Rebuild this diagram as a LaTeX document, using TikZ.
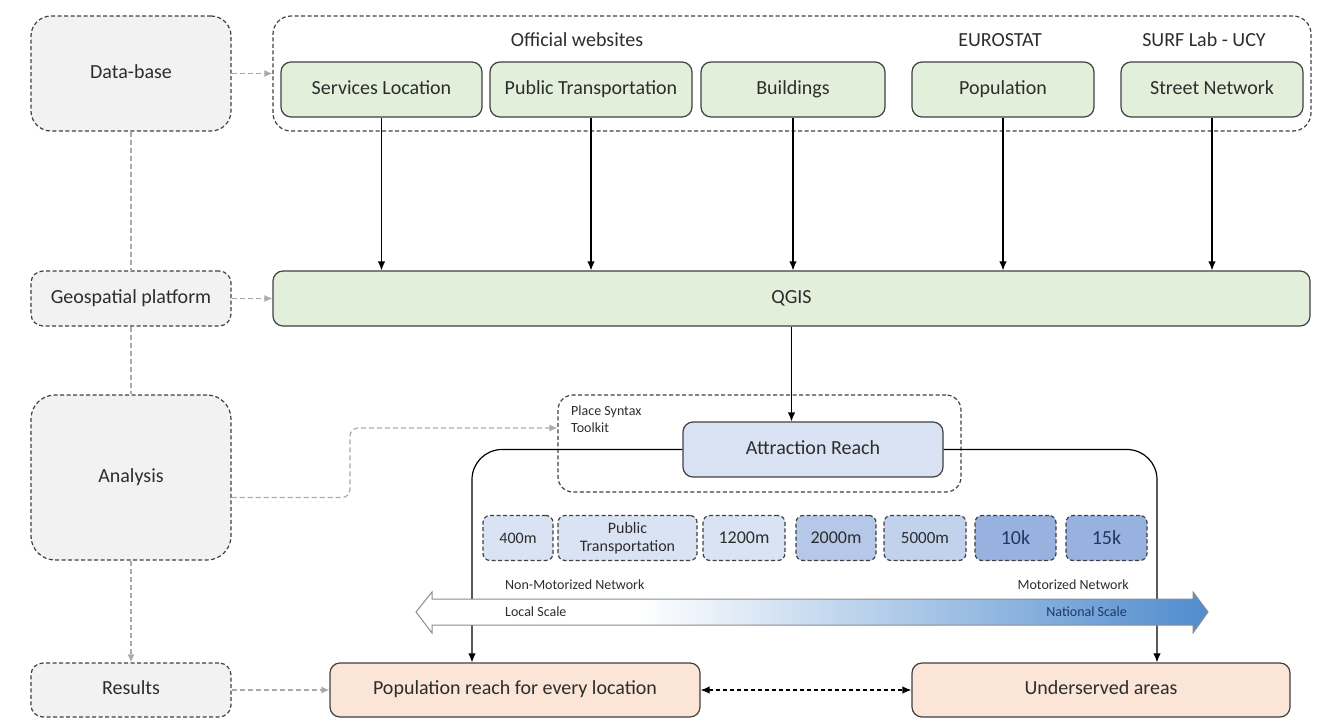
\documentclass[tikz,border=0pt]{standalone}
\usepackage{fontspec}
\setmainfont{Carlito}
\usetikzlibrary{arrows.meta,positioning}

\definecolor{boxgray}{RGB}{242,242,242}
\definecolor{boxgreen}{RGB}{226,239,218}
\definecolor{boxblue}{RGB}{218,227,243}
\definecolor{boxpeach}{RGB}{251,229,214}
\definecolor{distA}{RGB}{218,227,243}
\definecolor{distB}{RGB}{182,200,232}
\definecolor{distC}{RGB}{194,210,237}
\definecolor{distD}{RGB}{152,178,223}
\definecolor{scaleblue}{RGB}{80,140,206}
\definecolor{linkgray}{RGB}{170,170,170}
\definecolor{txt}{RGB}{45,45,45}
\definecolor{navy}{RGB}{31,56,100}

\pgfdeclarehorizontalshading{scaleshade}{100bp}{color(0bp)=(white); color(25bp)=(white); color(39bp)=(white); color(75bp)=(scaleblue); color(100bp)=(scaleblue)}

\newcommand{\mainsize}{\fontsize{20}{24}\selectfont}
\newcommand{\smallsize}{\fontsize{14}{17}\selectfont}

\tikzset{font=\mainsize}
\tikzset{every node/.append style={text=txt}}
\tikzset{
  label text/.style={text height=13pt, text depth=4pt},
  layer/.style={draw=black!75, line width=1.2pt, dash pattern=on 4pt off 2.5pt,
    fill=boxgray, rounded corners=12pt, minimum width=200pt, label text},
  frame/.style={draw=black!75, line width=1.2pt, dash pattern=on 4pt off 2.5pt,
    rounded corners=18pt},
  datasrc/.style={draw=black!75, line width=1.2pt, fill=boxgreen,
    rounded corners=10pt, minimum height=55pt, label text},
  process/.style={draw=black!75, line width=1.2pt, fill=boxblue,
    rounded corners=10pt, minimum height=55pt, label text},
  result/.style={draw=black!75, line width=1.2pt, fill=boxpeach,
    rounded corners=10pt, minimum height=54pt, label text},
  dist/.style={draw=black!75, line width=1.2pt, dash pattern=on 4pt off 2.5pt,
    rounded corners=7pt, minimum height=45pt, inner sep=1pt, align=center},
  smalltext/.style={font=\smallsize, inner sep=2pt},
  conn/.style={line width=1.2pt, black, -{Latex[length=9pt,width=7.5pt]}},
  link/.style={line width=1.2pt, linkgray, dash pattern=on 5pt off 3pt},
  linktip/.style={-{Latex[length=8pt,width=7pt]}}
}

\begin{document}
\begin{tikzpicture}[x=1pt,y=-1pt]
\useasboundingbox (0,0) rectangle (1323,718);

% left column
\node[layer, rounded corners=20pt, minimum height=115pt] (db) at (131,73.5) {Data-base};
\node[layer, minimum height=55pt] (geo) at (131,298.5) {Geospatial platform};
\node[layer, rounded corners=24pt, minimum height=165pt] (ana) at (131,477.5) {Analysis};
\node[layer, minimum height=54pt] (res) at (131,690) {Results};

% data sources
\node[frame, minimum width=1038pt, minimum height=115pt] (src) at (792,73.5) {};
\node[label text] (offweb) at (577,42) {Official websites};
\node[label text] (eurostat) at (1000,42) {EUROSTAT};
\node[label text] (surf) at (1204,42) {SURF Lab - UCY};
\node[datasrc, minimum width=201pt] (srvloc) at (381.5,89.5) {Services Location};
\node[datasrc, minimum width=202pt] (pubtr) at (591,89.5) {Public Transportation};
\node[datasrc, minimum width=184pt] (bldg) at (793,89.5) {Buildings};
\node[datasrc, minimum width=182pt] (popul) at (1003,89.5) {Population};
\node[datasrc, minimum width=182pt] (street) at (1212,89.5) {Street Network};

\node[datasrc, minimum width=1037pt] (qgis) at (791.5,298.5) {QGIS};

% analysis
\node[frame, rounded corners=15pt, minimum width=403pt, minimum height=97pt] (pst) at (759.5,443.5) {};
\node[smalltext, anchor=north west, align=left] (pstlab) at (569,404) {Place Syntax\\Toolkit};
\node[process, minimum width=260pt] (ar) at (813,449.5) {Attraction Reach};

\node[dist, fill=distA, minimum width=70pt, font=\fontsize{16}{18}\selectfont] (d400) at (518,538) {400m};
\node[dist, fill=distA, minimum width=139pt, font=\fontsize{16}{18}\selectfont] (dpt) at (627.5,538) {Public\\Transportation};
\node[dist, fill=distA, minimum width=82pt, font=\fontsize{18}{20}\selectfont] (d1200) at (744,538) {1200m};
\node[dist, fill=distB, minimum width=80pt, font=\fontsize{18}{20}\selectfont] (d2000) at (836,538) {2000m};
\node[dist, fill=distC, minimum width=82pt, font=\fontsize{17}{20}\selectfont] (d5000) at (925,538) {5000m};
\node[dist, fill=distD, minimum width=81pt, font=\fontsize{20}{22}\selectfont, text=navy] (d10k) at (1015.5,538) {10k};
\node[dist, fill=distD, minimum width=81pt, font=\fontsize{20}{22}\selectfont, text=navy] (d15k) at (1106.5,538) {15k};

% results
\node[result, minimum width=370pt] (popreach) at (515,690) {Population reach for every location};
\node[result, minimum width=378pt] (underserved) at (1101,690) {Underserved areas};

% flow
\draw[conn] (srvloc.south) -- (srvloc.south |- qgis.north);
\draw[conn] (pubtr.south) -- (pubtr.south |- qgis.north);
\draw[conn] (bldg.south) -- (bldg.south |- qgis.north);
\draw[conn] (popul.south) -- (popul.south |- qgis.north);
\draw[conn] (street.south) -- (street.south |- qgis.north);
\draw[conn] (qgis.south) -- (qgis.south |- ar.north);
\draw[conn, rounded corners=30pt] (ar.west) -| ([xshift=-43pt]popreach.north);
\draw[conn, rounded corners=30pt] (ar.east) -| ([xshift=56pt]underserved.north);
\draw[conn, dash pattern=on 4pt off 3pt, {Latex[length=9pt,width=7.5pt]}-{Latex[length=9pt,width=7.5pt]}] (popreach.east) -- (underserved.west);

% layer links
\draw[link] (db.south) -- (geo.north);
\draw[link] (geo.south) -- (ana.north);
\draw[link, linktip] (ana.south) -- (res.north);
\draw[link, linktip] (db.east) -- (src.west);
\draw[link, linktip] (geo.east) -- (qgis.west);
\draw[link, linktip] (res.east) -- (popreach.west);
\coordinate (bend) at (350,428);
\draw[link, linktip, rounded corners=8pt] ([yshift=-20pt]ana.east) -| (bend) -- (bend -| pst.west);

% scale arrow
\shade[shading=scaleshade, draw=black!45, line width=1pt]
  (416,612) -- (432,592) -- (432,599) -- (1193,599) -- (1193,592) -- (1208,612)
  -- (1193,633) -- (1193,625) -- (432,625) -- (432,633) -- cycle;
\node[smalltext, anchor=west] (nonmot) at (503,585) {Non-Motorized Network};
\node[smalltext, anchor=west] (local) at (503,612) {Local Scale};
\node[smalltext, anchor=east] (mot) at (1131,585) {Motorized Network};
\node[smalltext, anchor=east, text=navy] (national) at (1129,612) {National Scale};
\end{tikzpicture}
\end{document}
